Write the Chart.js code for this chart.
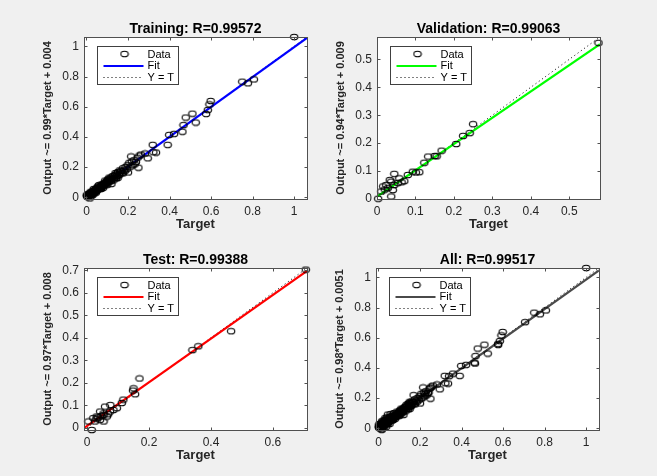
<!DOCTYPE html>
<html lang="en">
<head>
<meta charset="UTF-8">
<title>Regression plots</title>
<script src="https://cdn.jsdelivr.net/npm/chart.js"></script>
<style>
  body {
    margin: 0;
    background: #f0f0f0;
    width: 657px;
    height: 476px;
    overflow: hidden;
    position: relative;
  }
  canvas { position: absolute; }
</style>
</head>
<body>
<canvas id="cTrain" width="330" height="240" style="left:0;top:0"></canvas>
<canvas id="cVal" width="330" height="240" style="left:293px;top:0"></canvas>
<canvas id="cTest" width="330" height="240" style="left:0;top:231px"></canvas>
<canvas id="cAll" width="330" height="240" style="left:292px;top:231px"></canvas>

<script>
// data
const trainTarget = [1.000, 0.806, 0.777, 0.750, 0.598, 0.592, 0.584, 0.576, 0.510, 0.478, 0.526, 0.467, 0.462, 0.422, 0.398, 0.391,
  0.319, 0.322, 0.282, 0.262, 0.255, 0.246, 0.250, 0.238, 0.232, 0.228, 0.222, 0.218, 0.212, 0.206, 0.200, 0.198,
  0.194, 0.188, 0.184, 0.180, 0.176, 0.170, 0.166, 0.161, 0.156, 0.152, 0.148, 0.145, 0.141, 0.137, 0.133, 0.129,
  0.124, 0.120, 0.119, 0.115, 0.112, 0.109, 0.106, 0.102, 0.099, 0.096, 0.093, 0.090, 0.087, 0.084, 0.081, 0.078,
  0.076, 0.073, 0.070, 0.068, 0.065, 0.062, 0.060, 0.057, 0.055, 0.053, 0.050, 0.048, 0.046, 0.044, 0.042, 0.040,
  0.038, 0.036, 0.034, 0.032, 0.030, 0.028, 0.026, 0.024, 0.022, 0.020, 0.018, 0.016, 0.015, 0.014, 0.012, 0.010,
  0.009, 0.007, 0.005, 0.004, 0.002, 0.001, 0.035, 0.025, 0.045, 0.060, 0.070, 0.090, 0.100, 0.110, 0.130, 0.150,
  0.160, 0.140, 0.175, 0.080, 0.055, 0.020, 0.008, 0.030, 0.335, 0.295, 0.215, 0.118, 0.104, 0.086, 0.072, 0.064,
  0.052, 0.043, 0.033, 0.027, 0.019, 0.011, 0.006, 0.126, 0.143, 0.158, 0.096, 0.079, 0.067, 0.047, 0.039, 0.023];
const trainOutput = [1.062, 0.781, 0.755, 0.766, 0.638, 0.615, 0.578, 0.552, 0.554, 0.528, 0.495, 0.478, 0.434, 0.420, 0.413, 0.347,
  0.347, 0.298, 0.290, 0.283, 0.276, 0.262, 0.196, 0.233, 0.218, 0.245, 0.212, 0.236, 0.203, 0.228, 0.164, 0.212,
  0.186, 0.200, 0.172, 0.178, 0.192, 0.160, 0.174, 0.163, 0.150, 0.167, 0.141, 0.156, 0.131, 0.147, 0.126, 0.138,
  0.120, 0.088, 0.130, 0.111, 0.123, 0.104, 0.116, 0.097, 0.109, 0.101, 0.088, 0.097, 0.091, 0.079, 0.089, 0.072,
  0.082, 0.077, 0.064, 0.074, 0.068, 0.057, 0.065, 0.062, 0.050, 0.059, 0.047, 0.054, 0.041, 0.050, 0.046, 0.036,
  0.043, 0.039, 0.031, 0.038, 0.027, 0.034, 0.030, 0.021, 0.028, 0.024, 0.015, 0.022, -0.008, 0.018, 0.011, 0.016,
  0.008, 0.013, 0.004, 0.010, 0.006, 0.014, 0.055, 0.012, 0.030, 0.080, 0.055, 0.110, 0.082, 0.130, 0.112, 0.128,
  0.178, 0.160, 0.158, 0.062, 0.072, 0.036, 0.022, 0.016, 0.296, 0.258, 0.270, 0.106, 0.118, 0.078, 0.083, 0.058,
  0.063, 0.035, 0.044, 0.020, 0.026, 0.021, 0.003, 0.140, 0.125, 0.148, 0.092, 0.084, 0.060, 0.055, 0.032, 0.030];

const valTarget = [0.576, 0.250, 0.241, 0.224, 0.206, 0.168, 0.150, 0.133, 0.155, 0.123, 0.110, 0.101, 0.093, 0.080, 0.071,
  0.058, 0.045, 0.054, 0.037, 0.024, 0.020, 0.028, 0.011, 0.037, 0.003, 0.016, 0.041, 0.045, 0.033, 0.064];
const valOutput = [0.559, 0.268, 0.236, 0.226, 0.197, 0.173, 0.154, 0.152, 0.153, 0.130, 0.096, 0.095, 0.098, 0.086, 0.064,
  0.074, 0.090, 0.057, 0.062, 0.050, 0.034, 0.039, 0.027, 0.009, 0.001, 0.045, 0.032, 0.050, 0.068, 0.060];

const testTarget = [0.706, 0.465, 0.359, 0.340, 0.169, 0.150, 0.155, 0.148, 0.117, 0.112, 0.096, 0.075, 0.058, 0.074, 0.053,
  0.042, 0.031, 0.020, 0.004, 0.015, 0.042, 0.053, 0.064, 0.036, 0.025, 0.085, 0.053, 0.030, 0.046, 0.068];
const testOutput = [0.703, 0.429, 0.362, 0.345, 0.219, 0.175, 0.149, 0.165, 0.125, 0.110, 0.087, 0.101, 0.094, 0.072, 0.057,
  0.072, 0.050, 0.043, 0.028, -0.010, 0.035, 0.028, 0.050, 0.046, 0.028, 0.079, 0.064, 0.040, 0.052, 0.060];

const panelTitles = ['Training: R=0.99572', 'Validation: R=0.99063', 'Test: R=0.99388', 'All: R=0.99517'];
const yAxisLabels = ['Output ~= 0.99*Target + 0.004', 'Output ~= 0.94*Target + 0.009',
  'Output ~= 0.97*Target + 0.008', 'Output ~= 0.98*Target + 0.0051'];
const fitSlope = [0.99, 0.94, 0.97, 0.98];
const fitIntercept = [0.004, 0.009, 0.008, 0.0051];
const fitColors = ['#0000ff', '#00ff00', '#ff0000', '#4a4a4a'];
const axisMin = [-0.012, 0, -0.01, -0.012];
const axisMax = [1.062, 0.58, 0.71, 1.062];
const xTickValues = [
  [0, 0.2, 0.4, 0.6, 0.8, 1],
  [0, 0.1, 0.2, 0.3, 0.4, 0.5],
  [0, 0.2, 0.4, 0.6],
  [0, 0.2, 0.4, 0.6, 0.8, 1]
];
const yTickValues = [
  [0, 0.2, 0.4, 0.6, 0.8, 1],
  [0, 0.1, 0.2, 0.3, 0.4, 0.5],
  [0, 0.1, 0.2, 0.3, 0.4, 0.5, 0.6, 0.7],
  [0, 0.2, 0.4, 0.6, 0.8, 1]
];
const legendLabels = ['Data', 'Fit', 'Y = T'];

const allTarget = trainTarget.concat(valTarget, testTarget);
const allOutput = trainOutput.concat(valOutput, testOutput);

const FONT = "'Liberation Sans', Arial, sans-serif";
const AXIS_COLOR = '#262626';

// the markers in the picture are slightly wider than tall
const marker = document.createElement('canvas');
marker.width = 10;
marker.height = 8;
(function () {
  const g = marker.getContext('2d');
  g.strokeStyle = '#000';
  g.lineWidth = 1.1;
  g.beginPath();
  g.ellipse(5, 4, 3.7, 2.8, 0, 0, Math.PI * 2);
  g.stroke();
})();

// white axes, box with inward ticks on all sides, legend inside the axes
const matlabAxes = {
  id: 'matlabAxes',
  beforeDraw(chart) {
    const a = chart.chartArea;
    const ctx = chart.ctx;
    ctx.save();
    ctx.fillStyle = '#ffffff';
    ctx.fillRect(a.left, a.top, a.right - a.left, a.bottom - a.top);
    ctx.restore();
  },
  afterDatasetsDraw(chart) {
    const a = chart.chartArea;
    const ctx = chart.ctx;
    const xs = chart.scales.x, ys = chart.scales.y;
    const L = Math.round(a.left) + 0.5, R = Math.round(a.right) + 0.5;
    const T = Math.round(a.top) + 0.5, B = Math.round(a.bottom) + 0.5;
    ctx.save();
    ctx.strokeStyle = '#505050';
    ctx.lineWidth = 1;
    ctx.setLineDash([]);
    ctx.strokeRect(L, T, R - L, B - T);
    ctx.beginPath();
    xs.ticks.forEach(t => {
      const p = Math.round(xs.getPixelForValue(t.value)) + 0.5;
      ctx.moveTo(p, B); ctx.lineTo(p, B - 3);
      ctx.moveTo(p, T); ctx.lineTo(p, T + 3);
    });
    ys.ticks.forEach(t => {
      const p = Math.round(ys.getPixelForValue(t.value)) + 0.5;
      ctx.moveTo(L, p); ctx.lineTo(L + 3, p);
      ctx.moveTo(R, p); ctx.lineTo(R - 3, p);
    });
    ctx.stroke();

    // legend box
    const ds = chart.data.datasets;
    const bx = Math.round(a.left) + 13.5, by = Math.round(a.top) + 9.5;
    ctx.fillStyle = '#ffffff';
    ctx.fillRect(bx, by, 81, 38);
    ctx.strokeStyle = '#404040';
    ctx.strokeRect(bx, by, 81, 38);
    const rows = [by + 8, by + 19.5, by + 31];
    ctx.drawImage(marker, bx + 22, rows[0] - 4.5);
    // fit line
    ctx.beginPath();
    ctx.strokeStyle = ds[1].borderColor;
    ctx.lineWidth = 2;
    ctx.moveTo(bx + 6, rows[1]); ctx.lineTo(bx + 46, rows[1]);
    ctx.stroke();
    // y = t line
    ctx.beginPath();
    ctx.strokeStyle = '#000';
    ctx.lineWidth = 1;
    ctx.setLineDash([1, 3]);
    ctx.moveTo(bx + 6, rows[2]); ctx.lineTo(bx + 44, rows[2]);
    ctx.stroke();
    ctx.setLineDash([]);
    ctx.fillStyle = '#000';
    ctx.font = '11px ' + FONT;
    ctx.textBaseline = 'middle';
    ctx.textAlign = 'left';
    ds.forEach((d, i) => ctx.fillText(d.label, bx + 50, rows[i]));
    ctx.restore();
  }
};

function makePanel(id, k, target, output) {
  const lo = axisMin[k], hi = axisMax[k];
  const points = target.map((t, i) => ({x: t, y: output[i]}));
  const fitLine = [lo, hi].map(v => ({x: v, y: fitSlope[k] * v + fitIntercept[k]}));
  const identity = [lo, hi].map(v => ({x: v, y: v}));

  const tickOpts = {
    color: AXIS_COLOR,
    font: {family: FONT, size: 12},
    padding: 5,
    callback: v => String(v)
  };

  new Chart(document.getElementById(id), {
    type: 'scatter',
    data: {
      datasets: [
        {
          label: legendLabels[0],
          data: points,
          pointStyle: marker,
          pointRadius: 4,
          clip: false
        },
        {
          label: legendLabels[1],
          data: fitLine,
          showLine: true,
          borderColor: fitColors[k],
          borderWidth: 2.2,
          pointRadius: 0
        },
        {
          label: legendLabels[2],
          data: identity,
          showLine: true,
          borderColor: '#000',
          borderWidth: 1,
          borderDash: [1, 3],
          pointRadius: 0
        }
      ]
    },
    options: {
      responsive: false,
      animation: false,
      layout: {padding: {left: 0, top: 0, right: 23, bottom: 4}},
      scales: {
        x: {
          type: 'linear',
          min: lo,
          max: hi,
          grid: {display: false, drawTicks: false},
          border: {display: false},
          afterBuildTicks: s => { s.ticks = xTickValues[k].map(v => ({value: v})); },
          afterFit: s => { s.height = 37; },
          ticks: tickOpts,
          title: {
            display: true,
            text: 'Target',
            color: AXIS_COLOR,
            font: {family: FONT, size: 13, weight: 'bold', lineHeight: 1.2},
            padding: {top: 0, bottom: 4}
          }
        },
        y: {
          type: 'linear',
          min: lo,
          max: hi,
          grid: {display: false, drawTicks: false},
          border: {display: false},
          afterBuildTicks: s => { s.ticks = yTickValues[k].map(v => ({value: v})); },
          afterFit: s => { s.width = 84; },
          ticks: tickOpts,
          title: {
            display: true,
            text: yAxisLabels[k],
            color: AXIS_COLOR,
            font: {family: FONT, size: 11, weight: 'bold', lineHeight: 1.2},
            padding: {top: 41, bottom: 0}
          }
        }
      },
      plugins: {
        legend: {display: false},
        tooltip: {enabled: false},
        title: {
          display: true,
          text: panelTitles[k],
          fullSize: false,
          color: '#000',
          font: {family: FONT, size: 14, weight: 'bold', lineHeight: 1},
          padding: {top: 22, bottom: 1}
        }
      }
    },
    plugins: [matlabAxes]
  });
}

makePanel('cTrain', 0, trainTarget, trainOutput);
makePanel('cVal', 1, valTarget, valOutput);
makePanel('cTest', 2, testTarget, testOutput);
makePanel('cAll', 3, allTarget, allOutput);
</script>
</body>
</html>
